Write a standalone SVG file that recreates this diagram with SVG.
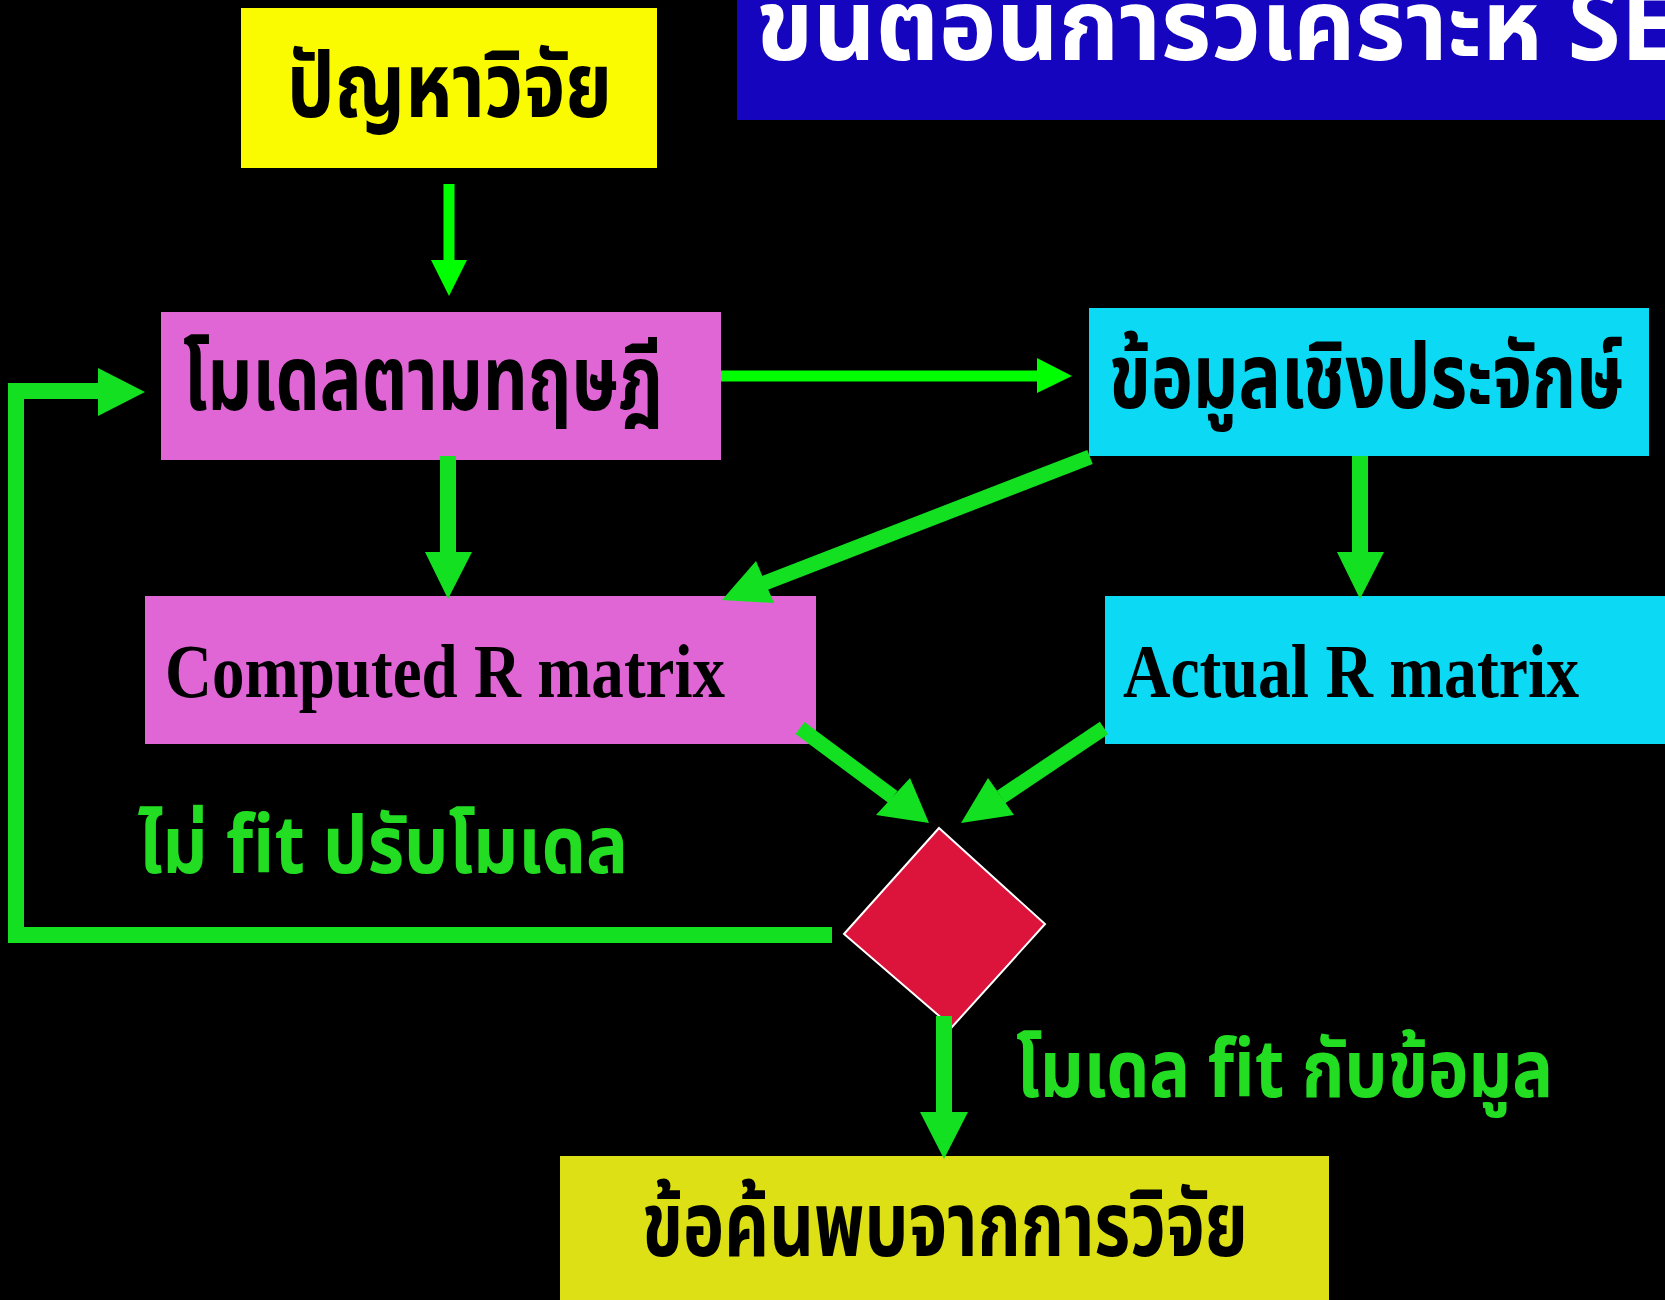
<svg xmlns="http://www.w3.org/2000/svg" width="1665" height="1300" viewBox="0 0 1665 1300">
<style>
.th{font-family:"Noto Sans Thai","Noto Sans","DejaVu Sans",sans-serif;font-weight:bold}
.en{font-family:"Liberation Serif",serif;font-weight:bold}
.lb{fill:#000}
.c1{stroke:#00FF00;fill:none}
.h1{fill:#00FF00}
.c2{stroke:#13E021;fill:none}
.h2{fill:#13E021}
.gl{fill:#22DD22}
</style>
<rect x="0" y="0" width="1665" height="1300" fill="#000"/>
<g id="title">
<rect x="737" y="0" width="928" height="120" fill="#1505BF"/>
<text x="756" y="60" class="th" font-size="100" fill="#fff" textLength="1010" lengthAdjust="spacingAndGlyphs">ขั้นตอนการวิเคราะห์ SEM</text>
</g>
<g id="n-problem">
<rect x="241" y="8" width="416" height="160" fill="#FAFA00"/>
<text x="287" y="117" class="th lb" font-size="90" textLength="325" lengthAdjust="spacingAndGlyphs">ปัญหาวิจัย</text>
</g>
<g id="n-model">
<rect x="161" y="312" width="560" height="148" fill="#E066D6"/>
<text x="183" y="410" class="th lb" font-size="90" textLength="480" lengthAdjust="spacingAndGlyphs">โมเดลตามทฤษฎี</text>
</g>
<g id="n-data">
<rect x="1089" y="308" width="560" height="148" fill="#0CDAF5"/>
<text x="1109" y="408" class="th lb" font-size="90" textLength="515" lengthAdjust="spacingAndGlyphs">ข้อมูลเชิงประจักษ์</text>
</g>
<g id="n-computed">
<rect x="145" y="596" width="671" height="148" fill="#E066D6"/>
<text x="165" y="697" class="en lb" font-size="76" textLength="560" lengthAdjust="spacingAndGlyphs">Computed R matrix</text>
</g>
<g id="n-actual">
<rect x="1105" y="596" width="560" height="148" fill="#0CDAF5"/>
<text x="1123" y="697" class="en lb" font-size="76" textLength="456" lengthAdjust="spacingAndGlyphs">Actual R matrix</text>
</g>
<g id="n-decision">
<polygon points="939,828 1045,924 952,1027 844,934" fill="#DC143C" stroke="#fff" stroke-width="2"/>
</g>
<g id="n-findings">
<rect x="560" y="1156" width="769" height="144" fill="#DCE014"/>
<text x="642" y="1256" class="th lb" font-size="90" textLength="606" lengthAdjust="spacingAndGlyphs">ข้อค้นพบจากการวิจัย</text>
</g>
<g id="connectors">
<line x1="449" y1="184" x2="449" y2="262" class="c1" stroke-width="11"/>
<polygon points="431,260 467,260 449,296" class="h1"/>
<line x1="721" y1="376" x2="1040" y2="376" class="c1" stroke-width="11"/>
<polygon points="1037,358 1037,393 1072,376" class="h1"/>
<line x1="448" y1="456" x2="448" y2="554" class="c2" stroke-width="16"/>
<polygon points="425,552 472,552 448,599" class="h2"/>
<line x1="1360" y1="456" x2="1360" y2="554" class="c2" stroke-width="16"/>
<polygon points="1337,552 1384,552 1360,599" class="h2"/>
<line x1="1090" y1="457" x2="762" y2="584" class="c2" stroke-width="15"/>
<polygon points="722,600 756,561 774,603" class="h2"/>
<line x1="800" y1="728" x2="893" y2="797" class="c2" stroke-width="15"/>
<polygon points="929,823 876,815 910,778" class="h2"/>
<line x1="1104" y1="728" x2="1001" y2="797" class="c2" stroke-width="15"/>
<polygon points="961,823 988,778 1014,815" class="h2"/>
<line x1="944" y1="1016" x2="944" y2="1114" class="c2" stroke-width="16"/>
<polygon points="920,1112 968,1112 944,1159" class="h2"/>
<polyline points="832,935 16,935 16,391 100,391" class="c2" stroke-width="16"/>
<polygon points="98,368 98,416 145,392" class="h2"/>
<text x="138" y="873" class="th gl" font-size="80" textLength="490" lengthAdjust="spacingAndGlyphs">ไม่ fit ปรับโมเดล</text>
<text x="1016" y="1097" class="th gl" font-size="80" textLength="537" lengthAdjust="spacingAndGlyphs">โมเดล fit กับข้อมูล</text>
</g>
</svg>
